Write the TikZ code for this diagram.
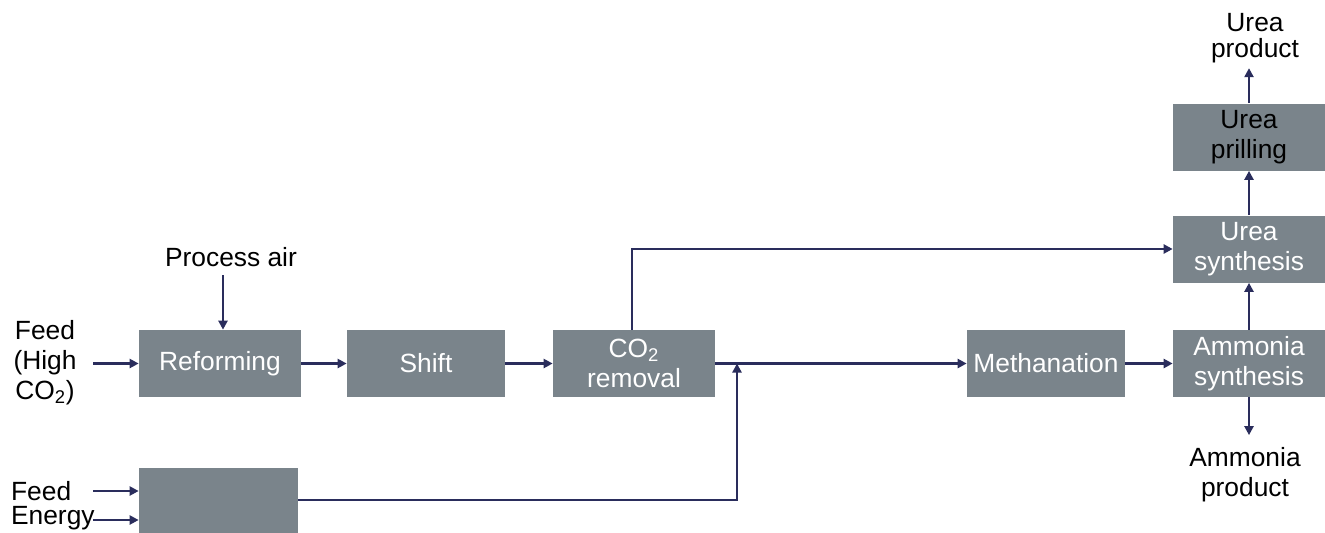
\documentclass[tikz,border=0pt]{standalone}
\usepackage{fontspec}
\setmainfont{Liberation Sans}
\usetikzlibrary{arrows.meta, positioning, calc}
\definecolor{unitgray}{HTML}{7A848B}
\definecolor{flowblue}{HTML}{2A2D5C}

\begin{document}
\begin{tikzpicture}[x=0.02cm, y=-0.02cm,
  unit/.style={fill=unitgray, minimum width=3.04cm, minimum height=1.34cm,
    inner sep=1pt, align=center, text=white,
    font=\fontsize{15}{17}\selectfont},
  lbl/.style={align=center, text=black, inner sep=1pt,
    font=\fontsize{15}{17}\selectfont},
  arr/.style={-{Triangle[length=1.8mm, width=1.8mm]}, flowblue, line width=1.4pt},
]
\useasboundingbox (0,0) rectangle (1325,532);
% main train
\node[unit, minimum width=3.24cm] (reform) at (220,363.5) {Reforming};
\node[unit, minimum width=3.16cm] (shift)  at (426,363.5) {Shift};
\node[unit, minimum width=3.24cm] (co2rem) at (634,363.5) {CO\textsubscript{2}\\removal};
\node[unit, minimum width=3.16cm] (meth)   at (1046,363.5) {Methanation};
\node[unit] (nh3syn)  at (1249,363.5) {Ammonia\\synthesis};
\node[unit] (ureasyn) at (1249,249) {Urea\\synthesis};
\node[unit, text=black] (prill) at (1249,137) {Urea\\prilling};
% second feed unit
\node[unit, minimum width=3.18cm, minimum height=1.3cm] (aux) at (218.5,500) {};
% labels
\node[lbl] (air)  at (231,257) {Process air};
\node[lbl] (feed) at (45,363) {Feed\\(High\\CO\textsubscript{2})};
\node[lbl, anchor=west] (feed2)  at (9,491) {Feed};
\node[lbl, anchor=west] (energy) at (9,518) {Energy};
\node[lbl, font=\fontsize{15}{14.5}\selectfont] (urea) at (1255,38) {Urea\\product};
\node[lbl] (nh3) at (1245,475) {Ammonia\\product};
% free ends
\coordinate (airin)  at (223,275);
\coordinate (feedin) at (93,363.5);
\coordinate (f2in)   at (93,491);
\coordinate (enin)   at (93,520);
\coordinate (join)   at (737,363.5);
% flows
\draw[arr] (airin) -- (airin |- reform.north);
\draw[arr] (feedin) -- (reform.west);
\draw[arr] (f2in) -- (f2in -| aux.west);
\draw[arr] (enin) -- (enin -| aux.west);
\draw[arr] (reform) -- (shift);
\draw[arr] (shift) -- (co2rem);
\draw[arr] (co2rem) -- (meth);
\draw[arr] (meth) -- (nh3syn);
\draw[arr] (aux.east) -| (join);
\draw[arr] ([xshift=-0.04cm]co2rem.north) |- (ureasyn.west);
\draw[arr] (nh3syn) -- (ureasyn);
\draw[arr] (ureasyn) -- (prill);
\draw[arr, shorten >=2pt] (prill) -- (prill |- urea.south);
\draw[arr, shorten >=6pt] (nh3syn) -- (nh3syn |- nh3.north);
\end{tikzpicture}
\end{document}
